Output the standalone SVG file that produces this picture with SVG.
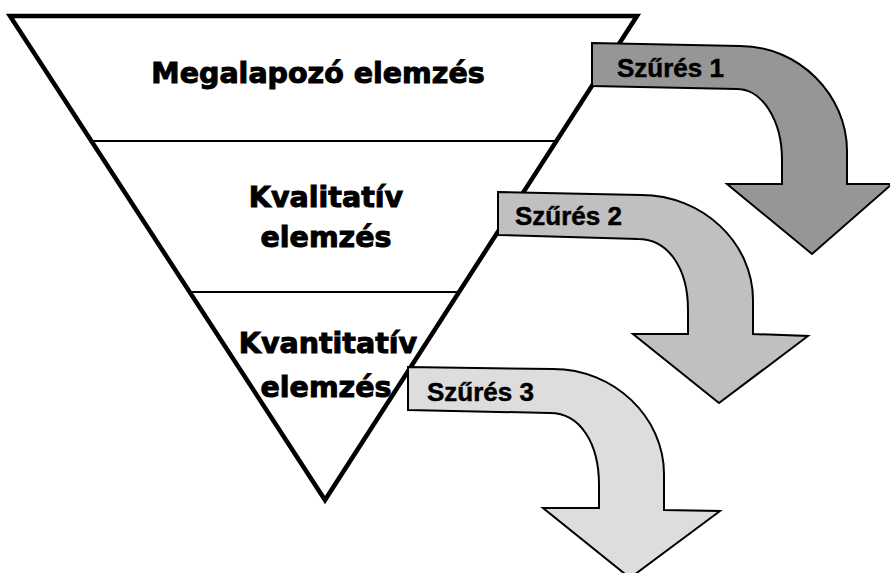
<svg xmlns="http://www.w3.org/2000/svg" width="890" height="573" viewBox="0 0 890 573">
<style>
.big{font-family:"DejaVu Sans",sans-serif;font-weight:bold;font-size:28.5px;fill:#000;stroke:#000;stroke-width:1;text-anchor:middle}
.lbl{font-family:"Liberation Sans",Arial,sans-serif;font-weight:bold;font-size:26px;fill:#000;stroke:#000;stroke-width:0.5}
.arrow{stroke:#000;stroke-width:2;stroke-linejoin:miter}
.div{stroke:#000;stroke-width:2}
</style>
<rect width="890" height="573" fill="#fff"/>
<g id="funnel">
<polygon points="10,16 637,16 325,500" fill="#fff" stroke="#000" stroke-width="4.5" stroke-linejoin="miter"/>
<line class="div" x1="93" y1="141" x2="556" y2="141"/>
<line class="div" x1="191" y1="292" x2="460" y2="292"/>
</g>
<g id="layer1"><text class="big" x="318" y="83">Megalapozó elemzés</text></g>
<g id="layer2"><text class="big" x="326" y="207">Kvalitatív</text><text class="big" x="326" y="247">elemzés</text></g>
<g id="layer3"><text class="big" x="328" y="353">Kvantitatív</text><text class="big" x="326" y="397">elemzés</text></g>
<g id="connectors">
<g id="filter1">
<path class="arrow" fill="#969696" d="M592,43 L740,46 C799,46 847,95 847,151 L847,184 L892,184 L812,254 L727,184 L782,184 L782,160 C782,120 762,89 737,89 L592,86 Z"/>
<text class="lbl" x="617" y="77">Szűrés 1</text>
</g>
<g id="filter2">
<path class="arrow" fill="#c0c0c0" d="M498,192 L641,195 C703,195 753,243 753,300 L753,334 L808,336 L719,403 L633,334 L688,334 L688,310 C688,268 668,239 638,239 L498,235 Z"/>
<text class="lbl" x="515" y="225">Szűrés 2</text>
</g>
<g id="filter3">
<path class="arrow" fill="#dddddd" d="M408,367 L553,369 C614,369 664,417 664,474 L664,510 L720,511 L630,578 L543,508 L599,508 L599,485 C599,443 580,413 550,413 L408,410 Z"/>
<text class="lbl" x="427" y="401">Szűrés 3</text>
</g>
</g>
</svg>
